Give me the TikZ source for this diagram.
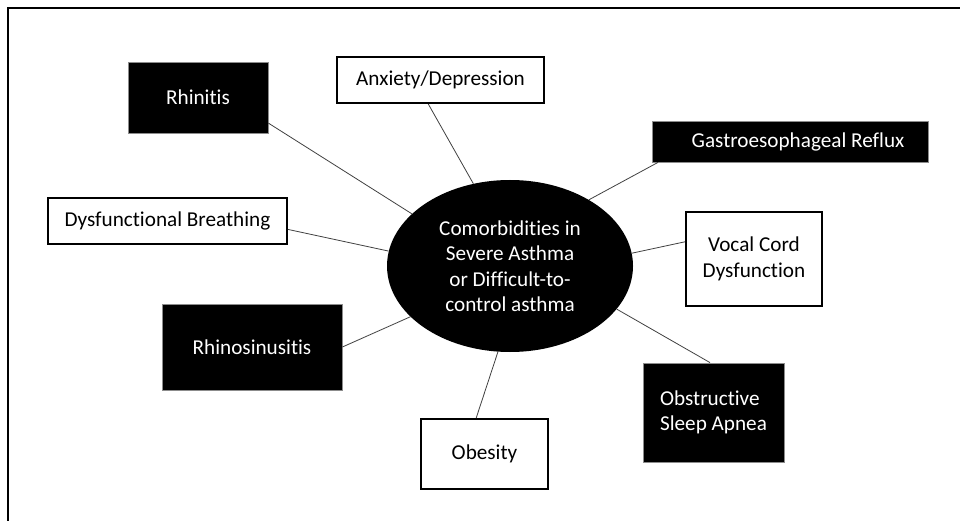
\documentclass[tikz,border=0pt]{standalone}
\usepackage{fontspec}
\setmainfont{Carlito}[Ligatures=NoCommon]
\usetikzlibrary{shapes.geometric}
\begin{document}
\begin{tikzpicture}[x=1pt,y=-1pt,
  every node/.style={font=\fontsize{21.2}{25.5}\selectfont, align=center, inner sep=0pt},
  darkbox/.style={rectangle, fill=black, draw=black!45, line width=0.8pt, text=white},
  lightbox/.style={rectangle, fill=white, draw=black, line width=2pt, text=black},
  link/.style={draw=black!75, line width=0.8pt}]
\useasboundingbox (0,0) rectangle (960,521);
\draw[line width=2pt] (961,8) -- (8,8) -- (8,522);

\node[ellipse, fill=black, minimum width=246pt, minimum height=172pt, text=white] (core) at (510,266)
  {Comorbidities in\\Severe Asthma\\or Difficult-to-\\control asthma};

\node[darkbox, minimum width=140pt, minimum height=71pt] (rhin) at (198,97.5) {Rhinitis};
\node[lightbox, minimum width=207pt, minimum height=46pt] (anx) at (440.5,80) {Anxiety/Depression};
\node[darkbox, minimum width=276pt, minimum height=41pt] (gerd) at (790,141.5) {\hspace*{16pt}Gastroesophageal Reflux};
\node[lightbox, minimum width=239pt, minimum height=46pt] (dysb) at (167.5,221) {Dysfunctional Breathing};
\node[lightbox, minimum width=136pt, minimum height=94pt] (vcd) at (754,259) {Vocal Cord\\Dysfunction};
\node[darkbox, minimum width=180pt, minimum height=86pt] (rsin) at (252,347) {Rhinosinusitis};
\node[darkbox, minimum width=141pt, minimum height=99pt, align=left] (osa) at (713.5,412.5) {Obstructive\\Sleep Apnea};
\node[lightbox, minimum width=127pt, minimum height=70pt] (obes) at (484.5,454) {Obesity};

\draw[link] (rhin.-20) -- (core.152.5);
\draw[link] (anx.-117) -- (core.114);
\draw[link] (gerd.189) -- (core.40.7);
\draw[link] (vcd.166.8) -- (core.6);
\draw[link] (osa.94) -- (core.-22.4);
\draw[link] (obes.103.7) -- (core.-98);
\draw[link] (rsin.east) -- (core.207);
\draw[link] (dysb.-4.8) -- (core.173);
\end{tikzpicture}
\end{document}
